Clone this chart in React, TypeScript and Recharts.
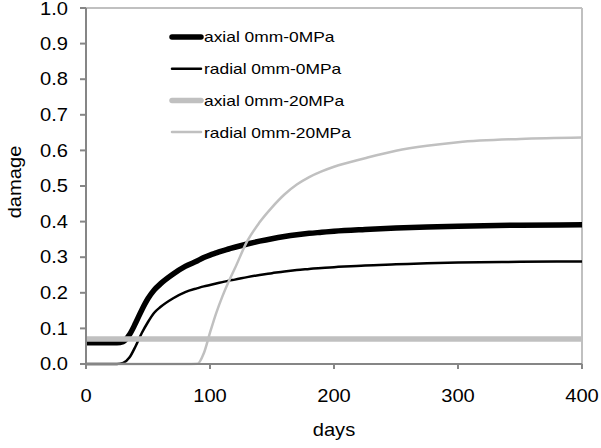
import React from "react";
import { LineChart, Line, XAxis, YAxis, ReferenceLine } from "recharts";

const days = [0, 10, 20, 25, 30, 35, 40, 45, 50, 55, 60, 70, 80, 90, 95, 100, 105, 110, 115, 120, 130, 140, 150, 160, 170, 180, 190, 200, 225, 250, 275, 300, 350, 400];

const axial0 = [0.06, 0.06, 0.06, 0.06, 0.063, 0.082, 0.115, 0.152, 0.184, 0.208, 0.225, 0.252, 0.274, 0.29, 0.299, 0.306, 0.312, 0.318, 0.323, 0.328, 0.337, 0.345, 0.352, 0.358, 0.363, 0.367, 0.37, 0.373, 0.378, 0.382, 0.385, 0.387, 0.39, 0.391];
const radial0 = [0, 0, 0, 0, 0.003, 0.018, 0.05, 0.087, 0.118, 0.144, 0.16, 0.184, 0.202, 0.213, 0.218, 0.222, 0.226, 0.23, 0.234, 0.237, 0.244, 0.25, 0.255, 0.26, 0.264, 0.267, 0.27, 0.272, 0.277, 0.28, 0.283, 0.285, 0.287, 0.288];
const axial20 = [0.07, 0.07, 0.07, 0.07, 0.07, 0.07, 0.07, 0.07, 0.07, 0.07, 0.07, 0.07, 0.07, 0.07, 0.07, 0.07, 0.07, 0.07, 0.07, 0.07, 0.07, 0.07, 0.07, 0.07, 0.07, 0.07, 0.07, 0.07, 0.07, 0.07, 0.07, 0.07, 0.07, 0.07];
const radial20 = [0, 0, 0, 0, 0, 0, 0, 0, 0, 0, 0, 0, 0, 0.001, 0.03, 0.088, 0.143, 0.19, 0.231, 0.268, 0.345, 0.398, 0.44, 0.476, 0.504, 0.525, 0.541, 0.554, 0.578, 0.599, 0.613, 0.623, 0.632, 0.636];

const xTicks = [0, 100, 200, 300, 400];
const yTicks = [0, 0.1, 0.2, 0.3, 0.4, 0.5, 0.6, 0.7, 0.8, 0.9, 1.0];

const series = [
  { key: "axial0", name: "axial 0mm-0MPa", color: "#000000", width: 5.5 },
  { key: "radial0", name: "radial 0mm-0MPa", color: "#000000", width: 2.5 },
  { key: "axial20", name: "axial 0mm-20MPa", color: "#c0c0c0", width: 5.5 },
  { key: "radial20", name: "radial 0mm-20MPa", color: "#c0c0c0", width: 2.5 },
];

const data = days.map((d, i) => ({
  day: d,
  axial0: axial0[i],
  radial0: radial0[i],
  axial20: axial20[i],
  radial20: radial20[i],
}));

const FONT = "'Liberation Sans', Arial, sans-serif";
const STRETCH = 1.15;

function XTick(props: any) {
  const { x, y, payload } = props;
  return (
    <g transform={`translate(${x},${y})`}>
      <text transform={`scale(${STRETCH},1)`} textAnchor="middle" dy="0.71em" fontSize={17.5} fontFamily={FONT} fill="#000">
        {payload.value}
      </text>
    </g>
  );
}

function YTick(props: any) {
  const { x, y, payload } = props;
  return (
    <g transform={`translate(${x},${y})`}>
      <text transform={`scale(${STRETCH},1)`} textAnchor="end" dy="0.355em" fontSize={17.5} fontFamily={FONT} fill="#000">
        {Number(payload.value).toFixed(1)}
      </text>
    </g>
  );
}

// legend sits inside the plot, top-left, so it is drawn over the chart
function LegendBox() {
  return (
    <svg width={200} height={130} style={{ position: "absolute", left: 168, top: 25 }}>
      {series.map((s, i) => (
        <g key={s.key} transform={`translate(0,${12 + i * 31.7})`}>
          <line x1={4} x2={33} y1={0} y2={0} stroke={s.color} strokeWidth={s.width} strokeLinecap="round" />
          <text transform={`translate(36,0) scale(1.16,1)`} dy="0.36em" fontSize={15} fontFamily={FONT} fill="#000">
            {s.name}
          </text>
        </g>
      ))}
    </svg>
  );
}

export default function App() {
  return (
    <div style={{ position: "absolute", left: 0, top: 0, width: 601, height: 448, background: "#fff" }}>
      <LineChart width={601} height={448} data={data} margin={{ top: 8, right: 19, left: 0, bottom: 0 }}>
        <XAxis
          dataKey="day"
          type="number"
          domain={[0, 400]}
          ticks={xTicks}
          height={84}
          stroke="#868686"
          strokeWidth={2}
          tickSize={5}
          tickMargin={21}
          tick={<XTick />}
          label={{
            content: () => (
              <text transform={`translate(334,436) scale(${STRETCH},1)`} textAnchor="middle" fontSize={17.5} fontFamily={FONT} fill="#000">
                days
              </text>
            ),
          }}
        />
        <YAxis
          type="number"
          domain={[0, 1]}
          ticks={yTicks}
          width={86}
          stroke="#868686"
          strokeWidth={2}
          tickSize={6}
          tickMargin={12}
          tick={<YTick />}
          label={{
            content: () => (
              <text transform={`translate(21,182) rotate(-90) scale(${STRETCH},1)`} textAnchor="middle" fontSize={17.5} fontFamily={FONT} fill="#000">
                damage
              </text>
            ),
          }}
        />
        <ReferenceLine x={400} stroke="#c0c0c0" strokeWidth={2} />
        <ReferenceLine y={1} stroke="#c0c0c0" strokeWidth={2} />
        {series.map((s) => (
          <Line
            key={s.key}
            dataKey={s.key}
            name={s.name}
            type="monotone"
            stroke={s.color}
            strokeWidth={s.width}
            dot={false}
            activeDot={false}
            isAnimationActive={false}
          />
        ))}
      </LineChart>
      <LegendBox />
    </div>
  );
}
